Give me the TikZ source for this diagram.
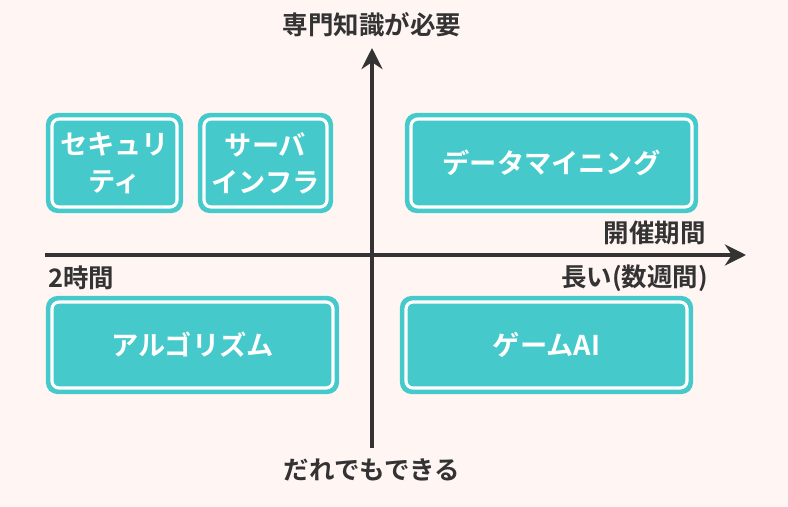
\documentclass[tikz,border=0pt]{standalone}
\usepackage{fontspec}
\setmainfont{Noto Sans CJK JP}[BoldFont={* Bold}]
\usetikzlibrary{arrows.meta}
\definecolor{bgcol}{HTML}{FFF6F3}
\definecolor{tealcol}{HTML}{45C9CB}
\definecolor{inkcol}{HTML}{333333}
\tikzset{
  field/.style={fill=tealcol, draw=tealcol, line width=1.2pt, rounded corners=6pt},
  inner/.style={draw=white, line width=1.8pt, rounded corners=4pt},
  fieldtext/.style={text=white, font=\bfseries\fontsize{15.5}{21}\selectfont, align=center},
  axlabel/.style={text=inkcol, font=\bfseries\fontsize{14.5}{17}\selectfont}
}
\newcommand{\fieldbox}[6]{%
  \draw[field] (#1,#2) rectangle (#3,#4);
  \draw[inner] (#1+5,#2+5) rectangle (#3-5,#4-5);
  \node[fieldtext] (#5) at ({(#1+#3)/2},{(#2+#4)/2}) {#6};
}
\begin{document}
\begin{tikzpicture}[x=0.02cm, y=-0.02cm]
	\fill[bgcol] (0,0) rectangle (788,507);
	% axes
	\draw[inkcol, line width=2.2pt, -{Stealth[length=12pt,width=12pt]}] (45,255) -- (746,255);
	\draw[inkcol, line width=2.2pt, -{Stealth[length=12pt,width=12pt]}] (372,448) -- (372,48);
	% fields
	\fieldbox{47}{114}{182}{212}{sec}{セキュリ\\ティ}
	\fieldbox{199}{114}{332}{212}{infra}{サーバ\\インフラ}
	\fieldbox{406}{114}{697}{212}{mining}{データマイニング}
	\fieldbox{47}{297}{338}{393}{algo}{アルゴリズム}
	\fieldbox{401}{297}{692}{393}{game}{ゲームAI}
	% labels
	\node[axlabel] (top) at (372,25) {専門知識が必要};
	\node[axlabel] (bottom) at (372,470) {だれでもできる};
	\node[axlabel, anchor=east] (period) at (712,233) {開催期間};
	\node[axlabel, anchor=east] (long) at (714,278) {長い(数週間)};
	\node[axlabel, anchor=west] (short) at (42,278) {2時間};
\end{tikzpicture}
\end{document}
